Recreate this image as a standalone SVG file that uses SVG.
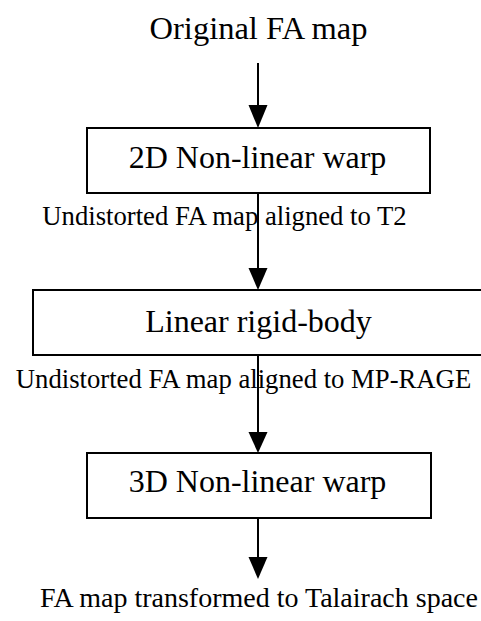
<svg xmlns="http://www.w3.org/2000/svg" width="481" height="621" viewBox="0 0 481 621">
<style>
text{font-family:"Liberation Serif","Times New Roman",serif;fill:#000;text-anchor:middle}
.t{font-size:32.5px}
.b{font-size:32px}
.l{font-size:26.7px}
.f{font-size:28px}
rect{fill:#fff;stroke:#000;stroke-width:2}
line{stroke:#000;stroke-width:2}
.ah{fill:#000}
</style>
<g id="title"><text class="t" x="258.5" y="39">Original FA map</text></g>
<g id="node1"><rect x="87" y="128" width="343" height="65"/><text class="b" x="257.5" y="168">2D Non-linear warp</text></g>
<g id="label1"><text class="l" x="224.5" y="225">Undistorted FA map aligned to T2</text></g>
<g id="node2"><rect x="33" y="290" width="460" height="65"/><text class="b" x="258.5" y="332">Linear rigid-body</text></g>
<g id="label2"><text class="l" x="243.5" y="388">Undistorted FA map aligned to MP-RAGE</text></g>
<g id="node3"><rect x="87" y="453" width="344" height="65"/><text class="b" x="257.5" y="492">3D Non-linear warp</text></g>
<g id="output"><text class="f" x="259" y="607">FA map transformed to Talairach space</text></g>
<g id="connectors">
<line x1="258" y1="63" x2="258" y2="106"/>
<path class="ah" d="M248.5,105 L267.5,105 L258,128 Z"/>
<line x1="258" y1="193" x2="258" y2="269"/>
<path class="ah" d="M248.5,268 L267.5,268 L258,290 Z"/>
<line x1="258" y1="355" x2="258" y2="433"/>
<path class="ah" d="M248.5,432 L267.5,432 L258,453 Z"/>
<line x1="258" y1="518" x2="258" y2="558"/>
<path class="ah" d="M248.5,557 L267.5,557 L258,579 Z"/>
</g>
</svg>
